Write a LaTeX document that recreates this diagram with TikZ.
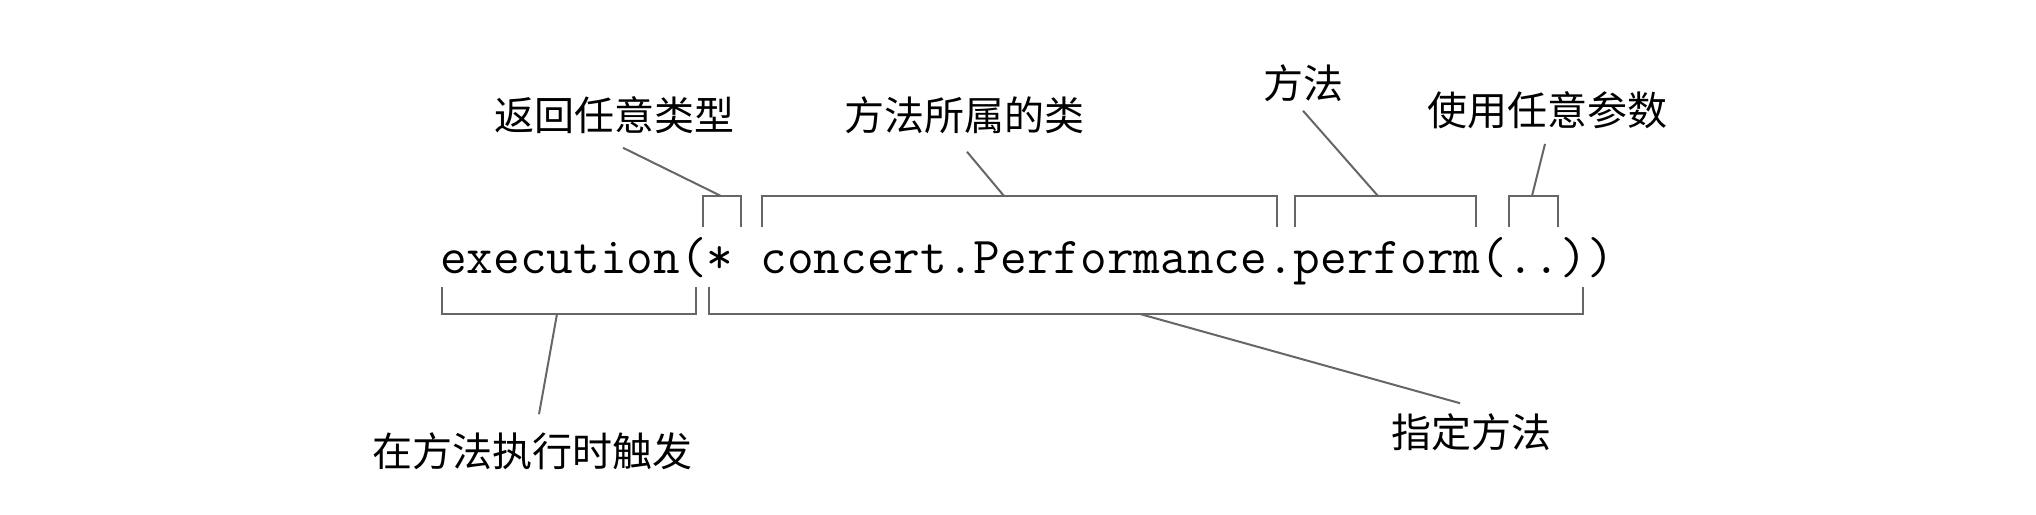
\documentclass[tikz,border=0pt]{standalone}
\usepackage{fontspec}
\newfontfamily\cjk{Noto Sans CJK SC}
\usetikzlibrary{positioning}

\tikzset{
  lbl/.style={font=\cjk\fontsize{40}{48}\selectfont, inner sep=0pt},
  brk/.style={draw=black!60, line width=2.5pt},
  lead/.style={draw=black!60, line width=2pt},
}

\begin{document}
\begin{tikzpicture}[x=1pt,y=-1pt]
  \useasboundingbox (0,0) rectangle (2036,514);
  % the pointcut expression
  \node[anchor=base west, inner sep=0pt, font=\ttfamily\fontsize{51.8}{62}\selectfont] (code) at (440,273)
    {execution(* concert.Performance.perform(..))};

  % labels
  \node[lbl] (ret)  at (614,115) {返回任意类型};
  \node[lbl] (cls)  at (964,115) {方法所属的类};
  \node[lbl] (meth) at (1303,83) {方法};
  \node[lbl] (args) at (1547,110) {使用任意参数};
  \node[lbl] (trig) at (532,451) {在方法执行时触发};
  \node[lbl] (spec) at (1471,432) {指定方法};

  % brackets above
  \draw[brk] (703,227) |- (741,196) -- (741,227);
  \draw[brk] (762,227) |- (1277,196) -- (1277,227);
  \draw[brk] (1295,227) |- (1476,196) -- (1476,227);
  \draw[brk] (1509,227) |- (1558,196) -- (1558,227);
  % brackets below
  \draw[brk] (442,287) |- (696,314) -- (696,287);
  \draw[brk] (709,287) |- (1583,314) -- (1583,287);

  \coordinate (retB)  at (721,196);
  \coordinate (clsB)  at (1004,196);
  \coordinate (methB) at (1378,196);
  \coordinate (argsB) at (1532,196);
  \coordinate (trigB) at (557,314);
  \coordinate (specB) at (1140,314);

  % leaders
  \draw[lead] ([xshift=9pt,yshift=-14pt]ret.south) -- (retB);
  \draw[lead] ([xshift=3pt,yshift=-18pt]cls.south) -- (clsB);
  \draw[lead] ([yshift=-9pt]meth.south) -- (methB);
  \draw[lead] ([xshift=-2pt,yshift=-15pt]args.south) -- (argsB);
  \draw[lead] ([xshift=7pt,yshift=18pt]trig.north) -- (trigB);
  \draw[lead] ([xshift=-11pt,yshift=10pt]spec.north) -- (specB);
\end{tikzpicture}
\end{document}
